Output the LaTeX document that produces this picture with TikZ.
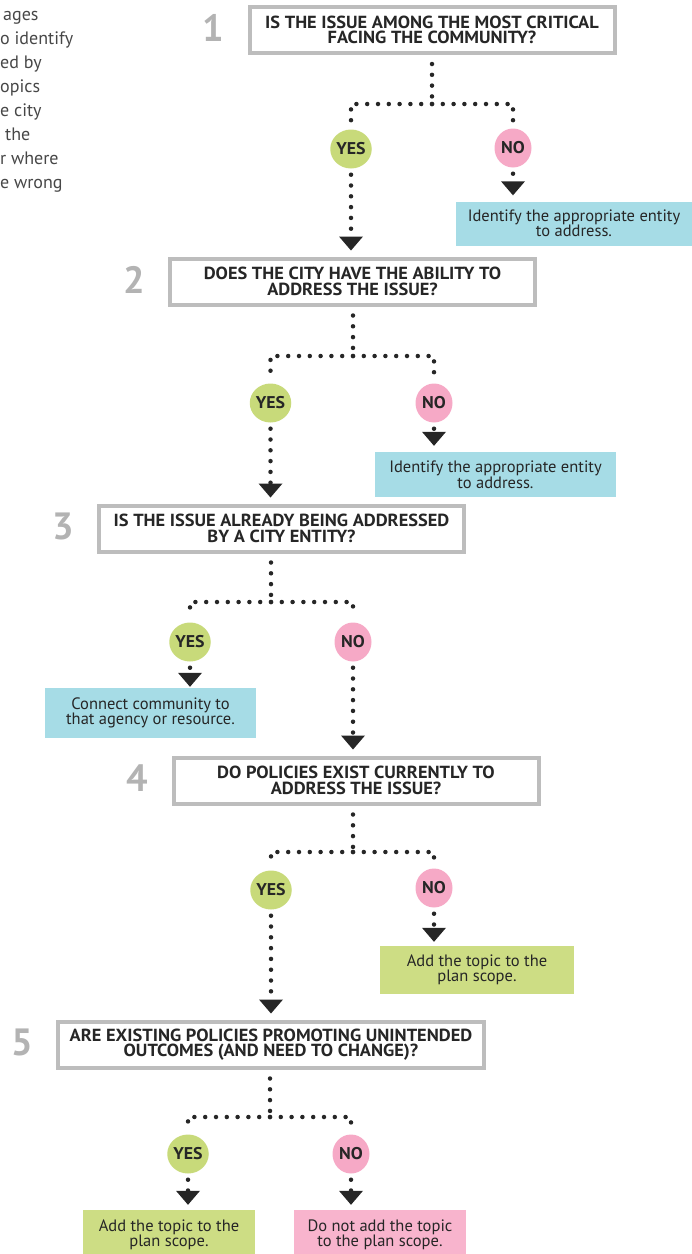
\documentclass[tikz,border=0pt]{standalone}
\usepackage{fontspec}
\setmainfont{PT Sans}
\newfontfamily\hdfont[FakeStretch=1.05]{PT Sans}
\usetikzlibrary{positioning,shapes.geometric,arrows.meta}

\definecolor{khung}{HTML}{BDBDBD}
\definecolor{sogray}{HTML}{B3B3B3}
\definecolor{chu}{HTML}{262626}
\definecolor{cogreen}{HTML}{C8DA7A}
\definecolor{nopink}{HTML}{F6A9C6}
\definecolor{hopcyan}{HTML}{A6DCE6}
\definecolor{hopgreen}{HTML}{CDDD84}
\definecolor{hoppink}{HTML}{F8B4CD}

\begin{document}
\begin{tikzpicture}[
  x=1pt, y=-1pt,
  cau/.style={draw=khung, line width=4pt, fill=white, minimum width=365pt,
    minimum height=46pt, inner sep=0pt, align=center, text=chu,
    font=\hdfont\bfseries\fontsize{17.5}{15.5}\selectfont},
  so/.style={inner sep=0pt, text=sogray, yshift=2pt,
    font=\bfseries\fontsize{38}{38}\selectfont},
  co/.style={ellipse, fill=cogreen, minimum width=37pt, minimum height=39pt,
    inner sep=0pt, text=chu, font=\hdfont\bfseries\fontsize{17}{17}\selectfont},
  khong/.style={co, fill=nopink},
  hop/.style={inner sep=0pt, align=center, text=chu,
    font=\fontsize{16.5}{15.5}\selectfont},
  cham/.style={line width=4.5pt, line cap=round, draw=chu,
    dash pattern=on 0pt off 10.8pt},
  mui/.style={cham, shorten <=6pt, shorten >=6pt,
    -{Triangle[width=24pt,length=14pt,line width=0pt]}}
]
  \useasboundingbox (0,0) rectangle (692,1254);

  % đoạn văn bị cắt bên trái
  \node[anchor=north west, align=left, inner sep=0pt, text=chu!85,
    font=\fontsize{18}{24}\selectfont] (doan) at (0,11)
    {\hspace{3pt}ages\\o identify\\ed by\\opics\\e city\\\hspace{5pt}the\\r where\\e wrong};

  % các câu hỏi
  \node[cau] (q1) at (432,30) {IS THE ISSUE AMONG THE MOST CRITICAL\\FACING THE COMMUNITY?};
  \node[cau] (q2) at (352.5,281.5) {DOES THE CITY HAVE THE ABILITY TO\\ADDRESS THE ISSUE?};
  \node[cau] (q3) at (281.5,528.5) {IS THE ISSUE ALREADY BEING ADDRESSED\\BY A CITY ENTITY?};
  \node[cau] (q4) at (356,780.5) {DO POLICIES EXIST CURRENTLY TO\\ADDRESS THE ISSUE?};
  \node[cau, minimum width=426pt] (q5) at (271,1044.5) {ARE EXISTING POLICIES PROMOTING UNINTENDED\\OUTCOMES (AND NEED TO CHANGE)?};

  % số thứ tự
  \node[so, left=23pt of q1] (s1) {1};
  \node[so, left=23pt of q2] (s2) {2};
  \node[so, left=23pt of q3] (s3) {3};
  \node[so, left=23pt of q4] (s4) {4};
  \node[so, left=23pt of q5] (s5) {5};

  % có / không
  \node[co] (y1) at (351,149) {YES};
  \node[khong] (n1) at (513,148) {NO};
  \node[co] (y2) at (270.5,403) {YES};
  \node[khong] (n2) at (434,403) {NO};
  \node[co] (y3) at (190,642) {YES};
  \node[khong] (n3) at (353,642) {NO};
  \node[co] (y4) at (271,890) {YES};
  \node[khong] (n4) at (434,888) {NO};
  \node[co] (y5) at (188,1154) {YES};
  \node[khong] (n5) at (351,1154) {NO};

  % kết quả
  \node[hop, fill=hopcyan, minimum width=236pt, minimum height=44pt] (r1) at (574,223.5) {Identify the appropriate entity\\to address.};
  \node[hop, fill=hopcyan, minimum width=241pt, minimum height=45pt] (r2) at (495.5,474.5) {Identify the appropriate entity\\to address.};
  \node[hop, fill=hopcyan, minimum width=211pt, minimum height=50pt] (r3) at (150.5,713) {Connect community to\\that agency or resource.};
  \node[hop, fill=hopgreen, minimum width=194pt, minimum height=48pt] (r4) at (477,970) {Add the topic to the\\plan scope.};
  \node[hop, fill=hopgreen, minimum width=172pt, minimum height=50pt] (r5) at (169,1235) {Add the topic to the\\plan scope.};
  \node[hop, fill=hoppink, minimum width=172pt, minimum height=50pt] (r6) at (380,1235) {Do not add the topic\\to the plan scope.};

  % điểm rẽ nhánh
  \coordinate (j1) at (432,104);
  \coordinate (j2) at (353,356);
  \coordinate (j3) at (271,602);
  \coordinate (j4) at (353,852);
  \coordinate (j5) at (270,1117);

  % đường chấm
  \draw[cham, shorten <=9pt] (j1 |- q1.south) -- (j1);
  \draw[cham, shorten >=7pt] (j1) -| (y1.north);
  \draw[cham, shorten >=7pt] (j1) -| (n1.north);
  \draw[mui] (y1) -- (y1 |- q2.north);
  \draw[mui] (n1) -- (n1 |- r1.north);

  \draw[cham, shorten <=9pt] (j2 |- q2.south) -- (j2);
  \draw[cham, shorten >=7pt] (j2) -| (y2.north);
  \draw[cham, shorten >=7pt] (j2) -| (n2.north);
  \draw[mui] (y2) -- (y2 |- q3.north);
  \draw[mui] (n2) -- (n2 |- r2.north);

  \draw[cham, shorten <=9pt] (j3 |- q3.south) -- (j3);
  \draw[cham, shorten >=7pt] (j3) -| (y3.north);
  \draw[cham, shorten >=7pt] (j3) -| (n3.north);
  \draw[mui, shorten >=1pt] (y3) -- (y3 |- r3.north);
  \draw[mui] (n3) -- (n3 |- q4.north);

  \draw[cham, shorten <=9pt] (j4 |- q4.south) -- (j4);
  \draw[cham, shorten >=7pt] (j4) -| (y4.north);
  \draw[cham, shorten >=7pt] (j4) -| (n4.north);
  \draw[mui] (y4) -- (y4 |- q5.north);
  \draw[mui, shorten >=4pt] (n4) -- (n4 |- r4.north);

  \draw[cham, shorten <=9pt] (j5 |- q5.south) -- (j5);
  \draw[cham, shorten >=7pt] (j5) -| (y5.north);
  \draw[cham, shorten >=7pt] (j5) -| (n5.north);
  \draw[mui, shorten >=5pt] (y5) -- (y5 |- r5.north);
  \draw[mui, shorten >=5pt] (n5) -- (n5 |- r6.north);
\end{tikzpicture}
\end{document}
